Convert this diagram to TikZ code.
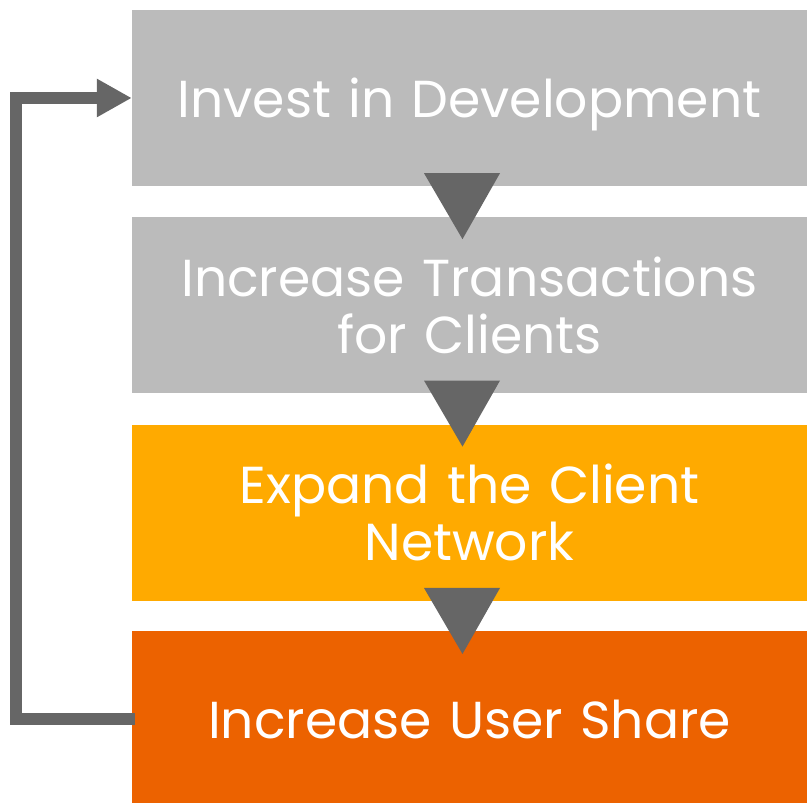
\documentclass[tikz,border=0pt]{standalone}
\usepackage{fontspec}
\setmainfont{Poppins}
\usetikzlibrary{positioning,arrows.meta,calc}

\definecolor{boxgray}{HTML}{BBBBBB}
\definecolor{arrowgray}{HTML}{666666}
\definecolor{boxorange}{HTML}{FFAA00}
\definecolor{boxred}{HTML}{EC6200}

\begin{document}
\begin{tikzpicture}[x=1pt, y=1pt,
    stage/.style={minimum width=675pt, minimum height=176pt, inner sep=0pt,
                  text width=660pt, align=center, text=white,
                  font=\fontsize{52}{57}\selectfont},
    pointer/.style={fill=arrowgray},
    loopback/.style={draw=arrowgray, line width=12pt, line join=miter,
                     -{Triangle[length=35pt, width=36pt]}}]

    \useasboundingbox (0,0) rectangle (807,803);

    \node[stage, fill=boxgray, text depth=0pt] (invest) at (469.5,705) {Invest in Development};
    \node[stage, fill=boxgray, below=31pt of invest] (transact) {Increase Transactions\\for Clients};
    \node[stage, fill=boxorange, below=31pt of transact] (network) {Expand the Client\\Network};
    \node[stage, fill=boxred, below=30pt of network] (share) {Increase User Share};

    \foreach \a in {invest, transact, network}
        \fill[pointer] ($(\a.south)+(-45.5,13)$) -- ++(76,0) -- ($(\a.south)+(-7,-53)$) -- cycle;

    \draw[loopback] ([xshift=3pt]share.west) -- ++(-118.5,0) |- (invest.west);
\end{tikzpicture}
\end{document}
